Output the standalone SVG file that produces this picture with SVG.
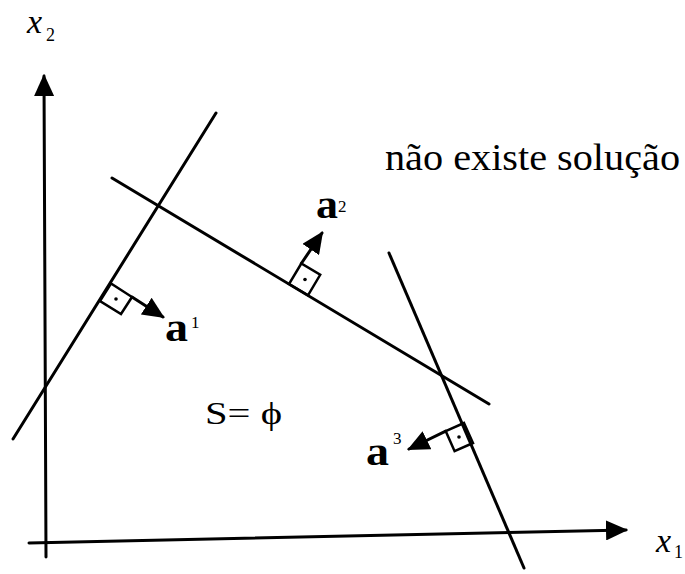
<svg xmlns="http://www.w3.org/2000/svg" width="685" height="574" viewBox="0 0 685 574">
<style>
.ln{stroke:#000;stroke-width:3;fill:none;stroke-linecap:round}
.box{stroke:#000;stroke-width:2.5;fill:none;stroke-linejoin:miter}
.t{font-family:"Liberation Serif","Times New Roman",serif;fill:#000}
.b{font-weight:bold}
.i{font-style:italic}
</style>
<defs>
<marker id="ah" viewBox="0 0 22 20" refX="20" refY="10" markerWidth="22" markerHeight="20" markerUnits="userSpaceOnUse" orient="auto">
<path d="M0,0 L22,10 L0,20 z" fill="#000"/>
</marker>
<marker id="axh" viewBox="0 0 22 20" refX="20" refY="10" markerWidth="22" markerHeight="20" markerUnits="userSpaceOnUse" orient="auto">
<path d="M0,0 L22,10 L0,20 z" fill="#000"/>
</marker>
</defs>
<rect width="685" height="574" fill="#fff"/>
<g id="axes">
<line class="ln" x1="46" y1="557" x2="44" y2="76" marker-end="url(#axh)"/>
<line class="ln" x1="29" y1="543" x2="626" y2="530" marker-end="url(#axh)"/>
<text class="t i" x="27" y="33" font-size="34">x</text>
<text class="t" x="46" y="41" font-size="18">2</text>
<text class="t i" x="656" y="552" font-size="34">x</text>
<text class="t" x="674" y="558" font-size="18">1</text>
</g>
<g id="connectors">
<line class="ln" x1="13" y1="439" x2="216" y2="113"/>
<line class="ln" x1="112" y1="178" x2="489" y2="404"/>
<line class="ln" x1="389" y1="253" x2="524" y2="568"/>
</g>
<g id="a1">
<polygon class="box" points="100,301 111,283.5 132,297 121,314"/>
<circle cx="116" cy="299" r="1.8" fill="#000"/>
<line class="ln" x1="132" y1="297" x2="163" y2="317" marker-end="url(#ah)"/>
<text class="t b" x="165" y="341" font-size="40" textLength="23" lengthAdjust="spacingAndGlyphs">a</text>
<text class="t" x="191" y="328" font-size="17">1</text>
</g>
<g id="a2">
<polygon class="box" points="289,284 308,295.4 320.2,274.8 301.3,263.5"/>
<circle cx="305" cy="279.5" r="1.8" fill="#000"/>
<line class="ln" x1="301.3" y1="263.5" x2="322" y2="233" marker-end="url(#ah)"/>
<text class="t b" x="316" y="218" font-size="40" textLength="22" lengthAdjust="spacingAndGlyphs">a</text>
<text class="t" x="338" y="212" font-size="17">2</text>
</g>
<g id="a3">
<polygon class="box" points="464,423 473,443 454.6,451.2 445.7,431.1"/>
<circle cx="459" cy="437" r="1.8" fill="#000"/>
<line class="ln" x1="445.7" y1="431.1" x2="409" y2="449" marker-end="url(#ah)"/>
<text class="t b" x="366" y="465" font-size="40" textLength="23" lengthAdjust="spacingAndGlyphs">a</text>
<text class="t" x="393" y="444" font-size="17">3</text>
</g>
<g id="labels">
<text class="t" x="385" y="170" font-size="37" textLength="295" lengthAdjust="spacingAndGlyphs">não existe solução</text>
<text class="t" x="205" y="424" font-size="32" textLength="77" lengthAdjust="spacingAndGlyphs">S= ϕ</text>
</g>
</svg>
